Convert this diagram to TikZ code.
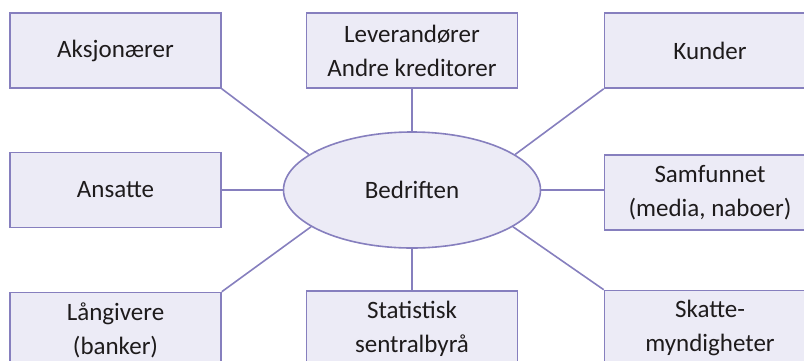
\documentclass[tikz,border=0pt]{standalone}
\usepackage{fontspec}
\setmainfont{Carlito}
\usetikzlibrary{shapes,positioning,calc}
\definecolor{boxfill}{RGB}{236,235,246}
\definecolor{boxline}{RGB}{134,127,190}
\definecolor{inkgray}{RGB}{30,27,28}

\begin{document}
\begin{tikzpicture}[x=1pt,y=-1pt,
    actor/.style={draw=boxline,fill=boxfill,line width=1.6pt,minimum width=211pt,minimum height=75pt,
        align=center,text=inkgray,font=\fontsize{25}{34}\selectfont},
    firm/.style={ellipse,draw=boxline,fill=boxfill,line width=1.6pt,minimum width=257pt,minimum height=116pt,
        text=inkgray,font=\fontsize{25}{34}\selectfont},
    link/.style={draw=boxline,line width=1.6pt}]
                \clip (0,0) rectangle (804,360);
                \node[firm] (firma) at (412,190) {Bedriften};
                \node[actor] (aksj) at (115.5,50.5) {Aksjonærer};
                \node[actor] (lev) at (412,50.5) {Leverandører\\Andre kreditorer};
                \node[actor] (kund) at (710,50.5) {Kunder};
                \node[actor] (ans) at (115.5,190) {Ansatte};
                \node[actor] (samf) at (710,192.5) {Samfunnet\\(media, naboer)};
                \node[actor] (lang) at (115.5,330) {Långivere\\(banker)};
                \node[actor] (stat) at (412,328.5) {Statistisk\\sentralbyrå};
                \node[actor] (skatt) at (710,328) {Skatte-\\myndigheter};
                \draw[link] (aksj.south east) -- (firma.161);
                \draw[link] (lev.south) -- (firma.north);
                \draw[link] (kund.south west) -- (firma.19);
                \draw[link] (ans.east) -- (firma.west);
                \draw[link] (samf.west |- firma.east) -- (firma.east);
                \draw[link] (lang.north east) -- (firma.200);
                \draw[link] (stat.north) -- (firma.south);
                \draw[link] (skatt.north west) -- (firma.340);
            \end{tikzpicture}
\end{document}
